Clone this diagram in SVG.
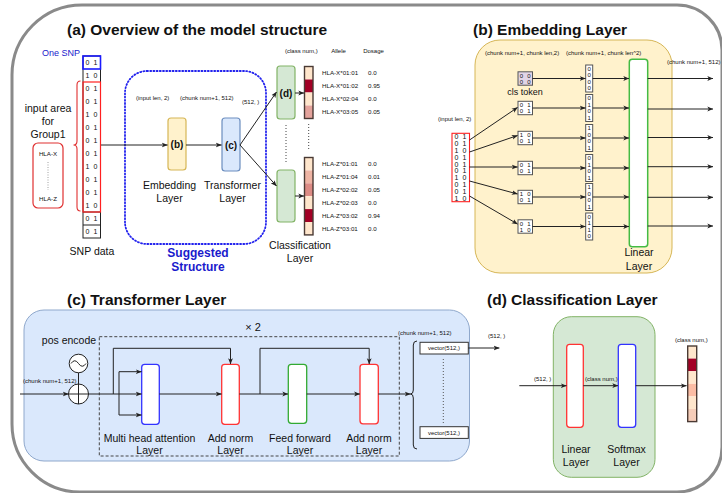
<svg xmlns="http://www.w3.org/2000/svg" width="722" height="493" viewBox="0 0 722 493">
<style>
text{font-family:"Liberation Sans",Arial,sans-serif;fill:#111}
.title{font-size:15.5px;font-weight:bold}
.lbl{font-size:10.5px;text-anchor:middle}
.sm{font-size:6px}
.hl{font-size:6.2px}
.dg{font-size:7px;text-anchor:middle}
.dg6{font-size:6px;text-anchor:middle}
.bx{font-size:10px;font-weight:bold;text-anchor:middle}
.ln{stroke:#222;stroke-width:1;fill:none}
.arr{stroke:#222;stroke-width:1;fill:none;marker-end:url(#ah)}
.wb{fill:#fff;stroke:#555;stroke-width:1}
.cell{stroke:none}
</style>
<defs>
<marker id="ah" viewBox="0 0 10 10" refX="9.5" refY="5" markerWidth="6" markerHeight="6" orient="auto" markerUnits="userSpaceOnUse">
<path d="M0,1 L10,5 L0,9 L2.5,5 z" fill="#222"/>
</marker>
</defs>

<!-- outer border -->
<path id="outer" d="M82,5 H677 A45,45 0 0 1 722,50 V447 A45,45 0 0 1 677,492 H80 A68,68 0 0 1 12,424 V75 A70,70 0 0 1 82,5 Z" fill="none" stroke="#8a8a8a" stroke-width="3"/>

<!-- titles -->
<text class="title" x="67" y="35">(a) Overview of the model structure</text>
<text class="title" x="473" y="35">(b) Embedding Layer</text>
<text class="title" x="67" y="305">(c) Transformer Layer</text>
<text class="title" x="487" y="305">(d) Classification Layer</text>

<!-- ===== (a) ===== -->
<g id="snp-data">
<text x="61" y="55.5" style="font-size:9px;text-anchor:middle;fill:#1a1acc">One SNP</text>
<rect x="83" y="56" width="17.5" height="182" fill="#fff" stroke="#222" stroke-width="1"/>
<line x1="83" y1="212" x2="100.5" y2="212" class="ln"/>
<line x1="83" y1="225" x2="100.5" y2="225" class="ln" stroke-width="0.5"/>
<rect x="83" y="56" width="17.5" height="13" fill="none" stroke="#1a1aff" stroke-width="1.6"/>
<rect x="83" y="82" width="17.5" height="130" fill="none" stroke="#ff2020" stroke-width="1.2"/>
<g class="dg">
<text x="87.5" y="65">0</text><text x="95.5" y="65">1</text>
<text x="87.5" y="78">1</text><text x="95.5" y="78">0</text>
<text x="87.5" y="91">0</text><text x="95.5" y="91">1</text>
<text x="87.5" y="104">0</text><text x="95.5" y="104">1</text>
<text x="87.5" y="117">1</text><text x="95.5" y="117">0</text>
<text x="87.5" y="130">0</text><text x="95.5" y="130">1</text>
<text x="87.5" y="143">0</text><text x="95.5" y="143">1</text>
<text x="87.5" y="156">0</text><text x="95.5" y="156">1</text>
<text x="87.5" y="169">1</text><text x="95.5" y="169">0</text>
<text x="87.5" y="182">0</text><text x="95.5" y="182">1</text>
<text x="87.5" y="195">0</text><text x="95.5" y="195">1</text>
<text x="87.5" y="208">1</text><text x="95.5" y="208">0</text>
<text x="87.5" y="221">0</text><text x="95.5" y="221">1</text>
<text x="87.5" y="234">0</text><text x="95.5" y="234">1</text>
</g>
<path d="M80.5,81 Q77,81 77,85 V141 Q77,145 73.5,145 Q77,145 77,149 V207 Q77,211 80.5,211" fill="none" stroke="#e03030" stroke-width="1.1"/>
<text class="lbl" x="92" y="255">SNP data</text>
</g>

<g id="input-area">
<text class="lbl" x="48" y="112">input area</text>
<text class="lbl" x="48" y="125">for</text>
<text class="lbl" x="48" y="138">Group1</text>
<rect x="33" y="143" width="30" height="65" rx="5" fill="#fff" stroke="#e03030" stroke-width="1.2"/>
<text class="hl" x="48" y="155.5" text-anchor="middle">HLA-X</text>
<line x1="48" y1="162" x2="48" y2="190" stroke="#888" stroke-width="0.8" stroke-dasharray="1 1.5"/>
<text class="hl" x="48" y="200.5" text-anchor="middle">HLA-Z</text>
</g>

<g id="suggested">
<rect x="125" y="71" width="141" height="173" rx="22" fill="none" stroke="#2222ee" stroke-width="1.8" stroke-dasharray="1 2.2" stroke-linecap="round"/>
<text x="198" y="256.5" style="font-size:12px;font-weight:bold;text-anchor:middle;fill:#1a1acc">Suggested</text>
<text x="198" y="271" style="font-size:12px;font-weight:bold;text-anchor:middle;fill:#1a1acc">Structure</text>
<text class="sm" x="136" y="100">(input len, 2)</text>
<text class="sm" x="180" y="100">(chunk num+1, 512)</text>
<text class="sm" x="242" y="103.5">(512, )</text>
</g>

<g id="node-b">
<rect x="168" y="118" width="18" height="52" rx="3" fill="#fff2cc" stroke="#d6b656" stroke-width="1.2"/>
<text class="bx" x="177" y="148">(b)</text>
<text class="lbl" x="169.5" y="189">Embedding</text>
<text class="lbl" x="169.5" y="202">Layer</text>
</g>
<g id="node-c">
<rect x="222" y="118" width="18" height="53" rx="3" fill="#dae8fc" stroke="#6c8ebf" stroke-width="1.2"/>
<text class="bx" x="231" y="148.5">(c)</text>
<text class="lbl" x="232.5" y="189">Transformer</text>
<text class="lbl" x="232.5" y="202">Layer</text>
</g>
<g id="node-d1">
<rect x="277" y="66" width="18" height="53" rx="3" fill="#d5e8d4" stroke="#82b366" stroke-width="1.2"/>
<text class="bx" x="286" y="97">(d)</text>
</g>
<g id="node-d2">
<rect x="277" y="170" width="18" height="52" rx="3" fill="#d5e8d4" stroke="#82b366" stroke-width="1.2"/>
</g>
<line x1="286" y1="125" x2="286" y2="163" stroke="#444" stroke-width="1" stroke-dasharray="1 2"/>
<text class="lbl" x="300" y="249">Classification</text>
<text class="lbl" x="300" y="262">Layer</text>

<g id="bar-x">
<rect class="cell" x="304.5" y="66.5" width="8.5" height="13" fill="#ffe6cc"/>
<rect class="cell" x="304.5" y="79.5" width="8.5" height="13" fill="#a20025"/>
<rect class="cell" x="304.5" y="92.5" width="8.5" height="13" fill="#ffe6cc"/>
<rect class="cell" x="304.5" y="105.5" width="8.5" height="13" fill="#e4a39c"/>
<rect x="304.5" y="66.5" width="8.5" height="52" fill="none" stroke="#4a3a34" stroke-width="1.4"/>
</g>
<line x1="308.7" y1="124" x2="308.7" y2="151" stroke="#444" stroke-width="1" stroke-dasharray="1 2"/>
<g id="bar-z">
<rect class="cell" x="304.5" y="157.5" width="8.5" height="12.9" fill="#ffe6cc"/>
<rect class="cell" x="304.5" y="170.4" width="8.5" height="12.9" fill="#eeb4a4"/>
<rect class="cell" x="304.5" y="183.3" width="8.5" height="12.9" fill="#dc8b85"/>
<rect class="cell" x="304.5" y="196.2" width="8.5" height="12.9" fill="#ffe6cc"/>
<rect class="cell" x="304.5" y="209.1" width="8.5" height="12.9" fill="#a20025"/>
<rect class="cell" x="304.5" y="222" width="8.5" height="12.9" fill="#ffe6cc"/>
<rect x="304.5" y="157.5" width="8.5" height="77.4" fill="none" stroke="#4a3a34" stroke-width="1.4"/>
</g>
<g id="allele-table">
<text class="sm" x="285" y="52.8">(class num,)</text>
<text class="sm" x="338.5" y="52.8" text-anchor="middle">Allele</text>
<text class="sm" x="373.5" y="52.8" text-anchor="middle">Dosage</text>
<g class="hl">
<text x="322" y="75.3">HLA-X*01:01</text><text x="368" y="75.3">0.0</text>
<text x="322" y="88.3">HLA-X*01:02</text><text x="368" y="88.3">0.95</text>
<text x="322" y="101.3">HLA-X*02:04</text><text x="368" y="101.3">0.0</text>
<text x="322" y="114.3">HLA-X*03:05</text><text x="368" y="114.3">0.05</text>
<text x="322" y="166.1">HLA-Z*01:01</text><text x="368" y="166.1">0.0</text>
<text x="322" y="179">HLA-Z*01:04</text><text x="368" y="179">0.01</text>
<text x="322" y="191.9">HLA-Z*02:02</text><text x="368" y="191.9">0.05</text>
<text x="322" y="204.8">HLA-Z*02:03</text><text x="368" y="204.8">0.0</text>
<text x="322" y="217.7">HLA-Z*03:02</text><text x="368" y="217.7">0.94</text>
<text x="322" y="230.6">HLA-Z*03:01</text><text x="368" y="230.6">0.0</text>
</g>
</g>

<g id="connectors-a">
<line class="arr" x1="101" y1="145" x2="167.5" y2="145"/>
<line class="arr" x1="186" y1="145" x2="221.5" y2="145"/>
<line class="arr" x1="240" y1="145" x2="276.5" y2="92"/>
<line class="arr" x1="240" y1="145" x2="276.5" y2="186"/>
<line class="arr" x1="295" y1="93" x2="304" y2="93"/>
<line class="arr" x1="295" y1="196" x2="304" y2="196"/>
</g>

<!-- ===== (b) ===== -->
<g id="embed-panel">
<rect x="475" y="40" width="197" height="233" rx="25" fill="#fff2cc" stroke="#d6b656" stroke-width="1"/>
<text class="sm" x="485" y="55">(chunk num+1, chunk len,2)</text>
<text class="sm" x="566" y="55">(chunk num+1, chunk len^2)</text>
<text class="sm" x="667" y="63.7">(chunk num+1, 512)</text>
<text class="sm" x="438" y="121">(input len, 2)</text>
</g>
<g id="embed-input">
<rect x="452" y="133.3" width="17.5" height="68.4" fill="#fff" stroke="#ff2020" stroke-width="1.1"/>
<g class="dg">
<text x="456.5" y="139.2">0</text><text x="464.5" y="139.2">1</text>
<text x="456.5" y="146.1">0</text><text x="464.5" y="146.1">1</text>
<text x="456.5" y="152.9">1</text><text x="464.5" y="152.9">0</text>
<text x="456.5" y="159.7">0</text><text x="464.5" y="159.7">1</text>
<text x="456.5" y="166.6">0</text><text x="464.5" y="166.6">1</text>
<text x="456.5" y="173.4">0</text><text x="464.5" y="173.4">1</text>
<text x="456.5" y="180.3">1</text><text x="464.5" y="180.3">0</text>
<text x="456.5" y="187.1">0</text><text x="464.5" y="187.1">1</text>
<text x="456.5" y="193.9">0</text><text x="464.5" y="193.9">1</text>
<text x="456.5" y="200.8">1</text><text x="464.5" y="200.8">0</text>
</g>
</g>
<g id="cls-token">
<rect x="518" y="71.8" width="14.5" height="13.4" fill="#e1d5e7" stroke="#555" stroke-width="1"/>
<g class="dg6"><text x="521.5" y="77.5">0</text><text x="529" y="77.5">0</text><text x="521.5" y="83.9">0</text><text x="529" y="83.9">0</text></g>
<text x="525" y="94.5" style="font-size:9px;text-anchor:middle">cls token</text>
</g>
<g id="chunks">
<rect class="wb" x="518" y="101.3" width="14.5" height="13.4"/>
<rect class="wb" x="518" y="131.3" width="14.5" height="13.4"/>
<rect class="wb" x="518" y="161.3" width="14.5" height="13.4"/>
<rect class="wb" x="518" y="190.3" width="14.5" height="13.4"/>
<rect class="wb" x="518" y="219.8" width="14.5" height="13.4"/>
<g class="dg6">
<text x="521.5" y="107">0</text><text x="529" y="107">1</text><text x="521.5" y="113.4">0</text><text x="529" y="113.4">1</text>
<text x="521.5" y="137">1</text><text x="529" y="137">0</text><text x="521.5" y="143.4">0</text><text x="529" y="143.4">1</text>
<text x="521.5" y="167">0</text><text x="529" y="167">1</text><text x="521.5" y="173.4">0</text><text x="529" y="173.4">1</text>
<text x="521.5" y="196">1</text><text x="529" y="196">0</text><text x="521.5" y="202.4">0</text><text x="529" y="202.4">1</text>
<text x="521.5" y="225.5">0</text><text x="529" y="225.5">1</text><text x="521.5" y="231.9">1</text><text x="529" y="231.9">0</text>
</g>
</g>
<g id="flat-vectors">
<rect class="wb" x="585.7" y="65" width="7" height="27"/>
<rect class="wb" x="585.7" y="94.5" width="7" height="27"/>
<rect class="wb" x="585.7" y="124.5" width="7" height="27"/>
<rect class="wb" x="585.7" y="154.5" width="7" height="27"/>
<rect class="wb" x="585.7" y="183.5" width="7" height="27"/>
<rect class="wb" x="585.7" y="213" width="7" height="27"/>
<g class="dg6">
<text x="589.2" y="70.5">0</text><text x="589.2" y="77">0</text><text x="589.2" y="83.5">0</text><text x="589.2" y="90">0</text>
<text x="589.2" y="100">0</text><text x="589.2" y="106.5">1</text><text x="589.2" y="113">0</text><text x="589.2" y="119.5">1</text>
<text x="589.2" y="130">1</text><text x="589.2" y="136.5">0</text><text x="589.2" y="143">0</text><text x="589.2" y="149.5">1</text>
<text x="589.2" y="160">0</text><text x="589.2" y="166.5">1</text><text x="589.2" y="173">0</text><text x="589.2" y="179.5">1</text>
<text x="589.2" y="189">1</text><text x="589.2" y="195.5">0</text><text x="589.2" y="202">0</text><text x="589.2" y="208.5">1</text>
<text x="589.2" y="218.5">0</text><text x="589.2" y="225">1</text><text x="589.2" y="231.5">1</text><text x="589.2" y="238">0</text>
</g>
</g>
<g id="embed-linear">
<rect x="629.3" y="59.3" width="18.4" height="187.4" rx="3" fill="#fff" stroke="#44bb44" stroke-width="1.5"/>
<text class="lbl" x="639" y="256">Linear</text>
<text class="lbl" x="639" y="270">Layer</text>
</g>
<g id="connectors-b">
<line class="arr" x1="469.5" y1="140" x2="517.5" y2="107.5"/>
<line class="arr" x1="469.5" y1="152" x2="517.5" y2="135.5"/>
<line class="arr" x1="469.5" y1="167" x2="517.5" y2="167"/>
<line class="arr" x1="469.5" y1="181" x2="517.5" y2="194"/>
<line class="arr" x1="469.5" y1="196" x2="517.5" y2="224"/>
<line class="arr" x1="532.5" y1="78.5" x2="585.5" y2="78.5"/>
<line class="arr" x1="532.5" y1="108" x2="585.5" y2="108"/>
<line class="arr" x1="532.5" y1="138" x2="585.5" y2="138"/>
<line class="arr" x1="532.5" y1="168" x2="585.5" y2="168"/>
<line class="arr" x1="532.5" y1="197" x2="585.5" y2="197"/>
<line class="arr" x1="532.5" y1="226.5" x2="585.5" y2="226.5"/>
<line class="arr" x1="592.7" y1="78.5" x2="629" y2="78.5"/>
<line class="arr" x1="592.7" y1="108" x2="629" y2="108"/>
<line class="arr" x1="592.7" y1="138" x2="629" y2="138"/>
<line class="arr" x1="592.7" y1="168" x2="629" y2="168"/>
<line class="arr" x1="592.7" y1="197" x2="629" y2="197"/>
<line class="arr" x1="592.7" y1="226.5" x2="629" y2="226.5"/>
<line class="arr" x1="647.7" y1="78.5" x2="713" y2="78.5"/>
<line class="arr" x1="647.7" y1="109" x2="713" y2="109"/>
<line class="arr" x1="647.7" y1="137.5" x2="713" y2="137.5"/>
<line class="arr" x1="647.7" y1="166.7" x2="713" y2="166.7"/>
<line class="arr" x1="647.7" y1="197.3" x2="713" y2="197.3"/>
<line class="arr" x1="647.7" y1="226" x2="713" y2="226"/>
</g>

<!-- ===== (c) ===== -->
<g id="transformer-panel">
<rect x="24" y="310" width="445.5" height="151" rx="20" fill="#dae8fc" stroke="#8fa8cc" stroke-width="1"/>
<rect x="99.3" y="336.7" width="300" height="119.3" fill="none" stroke="#444" stroke-width="1" stroke-dasharray="3 2"/>
<text x="253" y="331" style="font-size:11px;text-anchor:middle">× 2</text>
<text class="lbl" x="69" y="344">pos encode</text>
<text class="sm" x="23" y="383">(chunk num+1, 512)</text>
<text class="sm" x="398" y="335">(chunk num+1, 512)</text>
<text class="sm" x="488" y="338">(512, )</text>
</g>
<g id="pos-encode">
<circle cx="78.5" cy="363.5" r="9.3" fill="#fff" stroke="#222" stroke-width="1"/>
<path d="M71,363.5 q3.75,-5.5 7.5,0 t7.5,0" fill="none" stroke="#222" stroke-width="1"/>
<circle cx="78.5" cy="394" r="10" fill="#fff" stroke="#222" stroke-width="1"/>
<path d="M68.5,394 H88.5 M78.5,384 V404" stroke="#222" stroke-width="1"/>
</g>
<g id="mha">
<rect x="141.7" y="364.3" width="17.6" height="60" rx="3" fill="#fff" stroke="#3333ff" stroke-width="1.3"/>
<text class="lbl" x="149.5" y="441.5">Multi head attention</text>
<text class="lbl" x="149.5" y="454">Layer</text>
</g>
<g id="addnorm1">
<rect x="221.7" y="364.3" width="17.6" height="60" rx="3" fill="#fff" stroke="#ff3333" stroke-width="1.3"/>
<text class="lbl" x="230.5" y="441.5">Add norm</text>
<text class="lbl" x="230.5" y="454">Layer</text>
</g>
<g id="feedforward">
<rect x="288.3" y="364.3" width="18.4" height="59" rx="3" fill="#fff" stroke="#33aa33" stroke-width="1.3"/>
<text class="lbl" x="300" y="441.5">Feed forward</text>
<text class="lbl" x="300" y="454">Layer</text>
</g>
<g id="addnorm2">
<rect x="360" y="364.3" width="18.3" height="59.5" rx="3" fill="#fff" stroke="#ff3333" stroke-width="1.3"/>
<text class="lbl" x="369" y="441.5">Add norm</text>
<text class="lbl" x="369" y="454">Layer</text>
</g>
<g id="vectors">
<path d="M417,341 Q413.3,341 413.3,345 V390 Q413.3,394 410.5,394 Q413.3,394 413.3,398 V445 Q413.3,449 417,449" fill="none" stroke="#222" stroke-width="1"/>
<rect x="420" y="342.3" width="48.3" height="11.7" fill="#fff" stroke="#333" stroke-width="1"/>
<text class="sm" x="444" y="350.3" text-anchor="middle">vector(512,)</text>
<line x1="443.3" y1="359" x2="443.3" y2="423" stroke="#555" stroke-width="1" stroke-dasharray="1 2"/>
<rect x="420" y="426.7" width="48.3" height="11.7" fill="#fff" stroke="#333" stroke-width="1"/>
<text class="sm" x="444" y="434.7" text-anchor="middle">vector(512,)</text>
</g>
<g id="connectors-c">
<line class="arr" x1="20" y1="394" x2="68.5" y2="394"/>
<line class="ln" x1="78.5" y1="372.8" x2="78.5" y2="384"/>
<line class="arr" x1="88.5" y1="394" x2="141.5" y2="394"/>
<line class="ln" x1="119" y1="371.7" x2="119" y2="415"/>
<line class="arr" x1="119" y1="371.7" x2="141.5" y2="371.7"/>
<line class="arr" x1="119" y1="415" x2="141.5" y2="415"/>
<path class="arr" d="M113.3,394 V348.3 H230.5 V364"/>
<line class="arr" x1="159.3" y1="394" x2="221.5" y2="394"/>
<line class="arr" x1="239.3" y1="394" x2="288" y2="394"/>
<path class="arr" d="M260,394 V348.3 H369.2 V364"/>
<line class="arr" x1="306.7" y1="394" x2="359.8" y2="394"/>
<line class="arr" x1="378.3" y1="394" x2="410.5" y2="394"/>
<line class="arr" x1="468.3" y1="348" x2="499.3" y2="348"/>
</g>

<!-- ===== (d) ===== -->
<g id="class-panel">
<rect x="553.3" y="316.7" width="101.7" height="160.6" rx="18" fill="#d5e8d4" stroke="#82b366" stroke-width="1"/>
<text class="sm" x="534" y="380.5">(512, )</text>
<text class="sm" x="585" y="380.5">(class num,)</text>
<text class="sm" x="675" y="341.5">(class num,)</text>
</g>
<g id="class-linear">
<rect x="566.7" y="344.3" width="16.6" height="83" rx="3" fill="#fff" stroke="#ff3333" stroke-width="1.3"/>
<text class="lbl" x="576" y="452.5">Linear</text>
<text class="lbl" x="576" y="465.5">Layer</text>
</g>
<g id="class-softmax">
<rect x="618.3" y="344.3" width="17.4" height="83" rx="3" fill="#fff" stroke="#3333ff" stroke-width="1.3"/>
<text class="lbl" x="626.5" y="452.5">Softmax</text>
<text class="lbl" x="626.5" y="465.5">Layer</text>
</g>
<g id="class-bar">
<rect class="cell" x="687.7" y="346" width="9" height="12.6" fill="#ffe6cc"/>
<rect class="cell" x="687.7" y="358.6" width="9" height="12.6" fill="#a20025"/>
<rect class="cell" x="687.7" y="371.2" width="9" height="12.6" fill="#ffe6cc"/>
<rect class="cell" x="687.7" y="383.8" width="9" height="12.6" fill="#fbbca4"/>
<rect class="cell" x="687.7" y="396.4" width="9" height="12.6" fill="#ffe6cc"/>
<rect class="cell" x="687.7" y="409" width="9" height="12.6" fill="#f6cdb9"/>
<rect x="687.7" y="346" width="9" height="75.6" fill="none" stroke="#4a3a34" stroke-width="1.4"/>
</g>
<g id="connectors-d">
<line class="arr" x1="519.3" y1="385.7" x2="566.5" y2="385.7"/>
<line class="arr" x1="583.3" y1="385.7" x2="618" y2="385.7"/>
<line class="arr" x1="635.7" y1="385.7" x2="686.5" y2="385.7"/>
</g>
</svg>
